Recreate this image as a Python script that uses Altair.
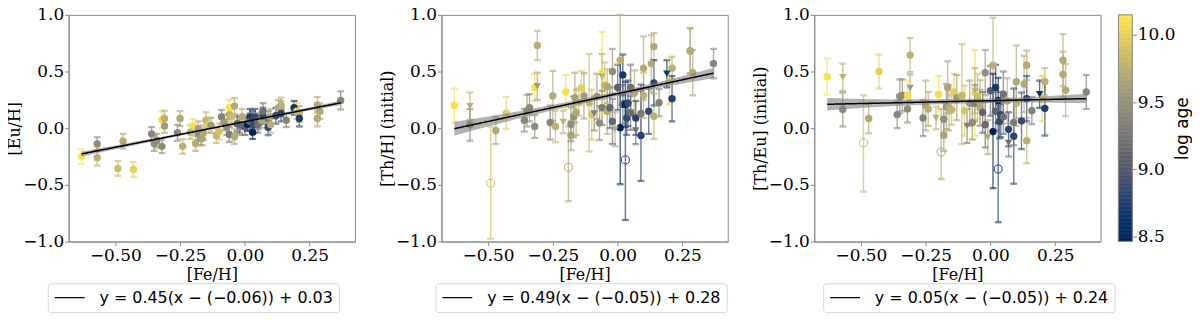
import altair as alt
import pandas as pd

FEH = [-0.63, -0.57, -0.57, -0.49, -0.47, -0.43, -0.36, -0.35, -0.34, -0.32, -0.32, -0.31, -0.31,
       -0.26, -0.25, -0.24, -0.21, -0.20, -0.19, -0.18, -0.18, -0.17, -0.165, -0.16, -0.15, -0.14,
       -0.13, -0.11, -0.10, -0.09, -0.08, -0.07, -0.06, -0.06, -0.06, -0.05, -0.04, -0.04, -0.03,
       -0.02, -0.02, -0.01, 0.00, 0.01, 0.01, 0.02, 0.02, 0.03, 0.03, 0.035, 0.04, 0.05, 0.05,
       0.065, 0.07, 0.07, 0.09, 0.09, 0.10, 0.10, 0.12, 0.13, 0.14, 0.14, 0.14, 0.16, 0.19, 0.20,
       0.21, 0.21, 0.28, 0.28, 0.29, 0.37]
LOGAGE = [10.12, 9.75, 9.45, 9.85, 9.7, 9.98, 9.4, 9.5, 9.45, 9.45, 10.1, 9.75, 9.6,
          9.4, 9.7, 9.75, 9.75, 10.1, 9.7, 9.65, 9.45, 9.5, 9.65, 9.7, 9.8, 9.98,
          9.6, 9.8, 9.9, 9.35, 9.55, 9.45, 9.3, 10.1, 9.75, 9.85, 9.7, 9.7, 9.1,
          9.5, 9.15, 9.7, 9.05, 9.75, 8.5, 8.7, 9.1, 8.75, 8.5, 8.85, 8.85, 9.2, 9.2,
          9.7, 8.8, 9.2, 8.8, 9.3, 9.7, 9.75, 8.85, 9.7, 9.7, 9.75, 8.8, 9.35, 8.65, 10.0,
          9.75, 8.75, 9.7, 9.7, 9.7, 9.4]
EU = [-0.25, -0.26, -0.14, -0.355, -0.115, -0.364, -0.05, -0.135, -0.11, -0.16, 0.075, 0.085, 0.02,
      -0.04, 0.085, -0.16, -0.035, 0.02, -0.135, -0.005, -0.045, -0.09, -0.09, -0.04, 0.07, 0.03,
      0.025, -0.065, -0.03, 0.10, 0.05, 0.01, -0.055, 0.18, 0.12, 0.10, 0.195, -0.075, 0.04,
      0.01, 0.03, 0.10, 0.01, 0.05, 0.035, 0.10, 0.06, 0.08, -0.035, 0.03, 0.10, 0.03, 0.06,
      0.07, 0.11, 0.15, 0.008, 0.08, 0.10, 0.03, 0.11, 0.18, 0.17, 0.20, 0.13, 0.07, 0.18, 0.15,
      0.125, 0.085, 0.205, 0.085, 0.15, 0.245]
EU_ERR = [0.065, 0.07, 0.06, 0.065, 0.065, 0.065, 0.06, 0.065, 0.06, 0.06, 0.075, 0.07, 0.06,
          0.07, 0.065, 0.065, 0.06, 0.06, 0.065, 0.065, 0.06, 0.06, 0.06, 0.065, 0.07, 0.07,
          0.065, 0.065, 0.07, 0.06, 0.07, 0.07, 0.065, 0.07, 0.07, 0.07, 0.07, 0.065, 0.07,
          0.07, 0.07, 0.07, 0.07, 0.07, 0.06, 0.07, 0.07, 0.07, 0.06, 0.07, 0.07, 0.07, 0.07,
          0.07, 0.07, 0.07, 0.07, 0.07, 0.07, 0.07, 0.07, 0.07, 0.07, 0.07, 0.07, 0.06, 0.06, 0.07,
          0.07, 0.07, 0.07, 0.07, 0.07, 0.08]
TH = [0.20, 0.195, 0.03, -0.485, -0.02, 0.135, 0.07, 0.155, 0.18, 0.015, 0.36, 0.73, 0.37,
      0.05, 0.285, 0.015, 0.055, 0.32, -0.345, -0.065, 0.035, 0.10, 0.27, 0.14, 0.23, 0.355,
      0.285, 0.225, 0.12, 0.13, 0.28, 0.045, 0.18, 0.49, 0.455, 0.38, 0.37, 0.15, 0.18,
      0.50, 0.06, -0.01, 0.36, 0.60, 0.005, 0.47, 0.21, -0.28, 0.21, 0.09, 0.22, 0.135, 0.36,
      0.31, 0.09, -0.02, -0.065, 0.13, 0.53, 0.29, 0.15, 0.57, 0.72, 0.105, 0.40, 0.225, 0.48, 0.41,
      0.53, 0.26, 0.68, 0.685, 0.49, 0.57]
TH_ERR_LO = [0.15, 0.12, 0.14, 0.49, 0.12, 0.14, 0.10, 0.14, 0.12, 0.10, 0.12, 0.13, 0.12,
             0.15, 0.22, 0.14, 0.10, 0.15, 0.30, 0.13, 0.15, 0.18, 0.22, 0.20, 0.12, 0.15,
             0.20, 0.43, 0.22, 0.15, 0.20, 0.15, 0.15, 0.36, 0.20, 0.20, 0.15, 0.20, 0.18,
             0.20, 0.20, 0.15, 0.20, 0.40, 0.50, 0.18, 0.17, 0.53, 0.20, 0.15, 0.20, 0.15, 0.20,
             0.20, 0.15, 0.12, 0.40, 0.20, 0.28, 0.20, 0.20, 0.25, 0.12, 0.20, 0.20, 0.12, 0.12, 0.20,
             0.10, 0.20, 0.20, 0.20, 0.20, 0.13]
TH_ERR_HI = [0.15, 0.12, 0.14, 0.50, 0.12, 0.14, 0.10, 0.14, 0.12, 0.10, 0.12, 0.13, 0.12,
             0.15, 0.22, 0.14, 0.10, 0.15, 0.36, 0.13, 0.15, 0.18, 0.22, 0.20, 0.12, 0.15,
             0.20, 0.43, 0.22, 0.15, 0.20, 0.15, 0.15, 0.36, 0.20, 0.20, 0.15, 0.20, 0.18,
             0.20, 0.20, 0.15, 0.20, 0.40, 0.60, 0.18, 0.17, 0.52, 0.20, 0.15, 0.20, 0.15, 0.20,
             0.20, 0.15, 0.12, 0.45, 0.20, 0.28, 0.20, 0.20, 0.25, 0.12, 0.20, 0.20, 0.12, 0.12, 0.20,
             0.10, 0.20, 0.20, 0.20, 0.20, 0.13]
THEU = [0.455, 0.45, 0.165, -0.13, 0.085, 0.50, 0.12, 0.28, 0.29, 0.17, 0.29, 0.645, 0.355,
        0.09, 0.20, 0.17, 0.09, 0.30, -0.21, -0.06, 0.08, 0.19, 0.36, 0.18, 0.16, 0.32,
        0.27, 0.29, 0.155, 0.02, 0.22, 0.05, 0.22, 0.31, 0.33, 0.28, 0.18, 0.225, 0.14,
        0.49, 0.03, -0.08, 0.33, 0.555, -0.03, 0.36, 0.15, -0.36, 0.245, 0.06, 0.12, 0.10, 0.30,
        0.24, -0.01, -0.13, -0.07, 0.05, 0.41, 0.22, 0.065, 0.39, 0.555, -0.11, 0.26, 0.155, 0.30, 0.26,
        0.41, 0.175, 0.475, 0.60, 0.335, 0.32]
THEU_ERR_LO = [0.16, 0.12, 0.15, 0.43, 0.13, 0.15, 0.12, 0.15, 0.14, 0.12, 0.13, 0.15, 0.12,
               0.16, 0.22, 0.15, 0.10, 0.16, 0.24, 0.14, 0.16, 0.20, 0.23, 0.20, 0.13, 0.16,
               0.20, 0.43, 0.22, 0.15, 0.20, 0.15, 0.16, 0.38, 0.20, 0.20, 0.16, 0.20, 0.18,
               0.20, 0.20, 0.15, 0.22, 0.42, 0.50, 0.20, 0.17, 0.47, 0.20, 0.15, 0.20, 0.15, 0.20,
               0.20, 0.15, 0.12, 0.42, 0.20, 0.32, 0.20, 0.25, 0.25, 0.13, 0.20, 0.20, 0.12, 0.12, 0.20,
               0.12, 0.24, 0.20, 0.23, 0.23, 0.15]
THEU_ERR_HI = [0.16, 0.12, 0.15, 0.42, 0.13, 0.15, 0.12, 0.15, 0.14, 0.12, 0.13, 0.15, 0.12,
               0.16, 0.22, 0.15, 0.10, 0.16, 0.38, 0.14, 0.16, 0.20, 0.23, 0.20, 0.13, 0.16,
               0.20, 0.45, 0.22, 0.15, 0.20, 0.15, 0.16, 0.38, 0.20, 0.20, 0.16, 0.20, 0.18,
               0.20, 0.20, 0.15, 0.22, 0.42, 0.51, 0.20, 0.17, 0.60, 0.20, 0.15, 0.20, 0.15, 0.20,
               0.20, 0.15, 0.12, 0.42, 0.20, 0.32, 0.20, 0.25, 0.25, 0.13, 0.20, 0.20, 0.12, 0.12, 0.20,
               0.12, 0.24, 0.20, 0.23, 0.23, 0.15]
MARKER = ["c", "t", "c", "o", "c", "c", "c", "c", "c", "c", "c", "c", "t",
          "c", "c", "c", "t", "c", "o", "c", "c", "c", "c", "c", "c", "c",
          "c", "c", "c", "t", "c", "c", "c", "c", "t", "c", "c", "c", "c",
          "c", "c", "t", "c", "c", "c", "c", "c", "o", "c", "c", "c", "c", "c",
          "c", "c", "t", "c", "c", "c", "c", "c", "c", "c", "c", "c", "c", "t", "c",
          "c", "c", "c", "c", "c", "c"]

# regression lines and confidence bands
FIT_X = [-0.63, -0.35, -0.05, 0.15, 0.37]
EU_FIT = [-0.227, -0.101, 0.035, 0.125, 0.224]
EU_BAND_LO = [-0.249, -0.113, 0.027, 0.114, 0.204]
EU_BAND_HI = [-0.205, -0.089, 0.043, 0.136, 0.244]
TH_FIT = [-0.004, 0.133, 0.28, 0.378, 0.486]
TH_BAND_LO = [-0.064, 0.103, 0.26, 0.353, 0.441]
TH_BAND_HI = [0.056, 0.163, 0.30, 0.403, 0.531]
THEU_FIT = [0.211, 0.225, 0.24, 0.25, 0.261]
THEU_BAND_LO = [0.156, 0.197, 0.22, 0.226, 0.219]
THEU_BAND_HI = [0.266, 0.253, 0.26, 0.274, 0.303]

EQ1 = "y = 0.45(x − (−0.06)) + 0.03"
EQ2 = "y = 0.49(x − (−0.05)) + 0.28"
EQ3 = "y = 0.05(x − (−0.05)) + 0.24"

X_TICKS = [-0.5, -0.25, 0.0, 0.25]
Y_TICKS = [-1.0, -0.5, 0.0, 0.5, 1.0]
AGE_TICKS = [8.5, 9.0, 9.5, 10.0]
AGE_DOMAIN = [8.46, 10.15]
CBAR_STEP = 0.01

stars = pd.DataFrame({
    "feh": FEH, "logage": LOGAGE, "eu": EU, "eu_err": EU_ERR,
    "th": TH, "th_lo": TH_ERR_LO, "th_hi": TH_ERR_HI,
    "theu": THEU, "theu_lo": THEU_ERR_LO, "theu_hi": THEU_ERR_HI,
    "marker": MARKER,
})

W, H = 288, 228
SERIF = "DejaVu Serif, serif"
CBAR_X0, CBAR_X1 = W + 18, W + 32

xenc = alt.X("feh:Q", scale=alt.Scale(domain=[-0.68, 0.425], nice=False, zero=False),
             axis=alt.Axis(values=X_TICKS, format=".2f", title="[Fe/H]", labelPadding=2,
                           titlePadding=3))
age_scale = alt.Scale(scheme="cividis", domain=AGE_DOMAIN, nice=False, zero=False)
fill = alt.Fill("logage:Q", scale=age_scale, legend=None)
stroke = alt.Stroke("logage:Q", scale=age_scale, legend=None)


def panel(col, lo_expr, hi_expr, ytitle, fit, blo, bhi, eq, filled_only, leg_x):
    yscale = alt.Scale(domain=[-1, 1], nice=False)
    yaxis = alt.Axis(values=Y_TICKS, format=".1f", title=ytitle, titlePadding=0, labelPadding=1,
                     orient="left")
    base = alt.Chart(stars).transform_calculate(lo=lo_expr, hi=hi_expr)
    bars = base.mark_rule(opacity=0.7, strokeWidth=1.4).encode(
        x=xenc, y=alt.Y("lo:Q", scale=yscale, axis=yaxis), y2="hi:Q", stroke=stroke)
    cap_lo = base.mark_tick(orient="horizontal", size=6, thickness=1.2, opacity=0.7, filled=False).encode(
        x=xenc, y=alt.Y("lo:Q", scale=yscale), stroke=stroke)
    cap_hi = base.mark_tick(orient="horizontal", size=6, thickness=1.2, opacity=0.7, filled=False).encode(
        x=xenc, y=alt.Y("hi:Q", scale=yscale), stroke=stroke)
    y = alt.Y(f"{col}:Q", scale=yscale)
    layers = [bars, cap_lo, cap_hi]
    if filled_only:
        layers.append(base.mark_circle(size=55, opacity=1).encode(x=xenc, y=y, fill=fill))
    else:
        layers.append(base.transform_filter(alt.datum.marker == "c").mark_circle(size=55, opacity=1)
                      .encode(x=xenc, y=y, fill=fill))
        layers.append(base.transform_filter(alt.datum.marker == "t")
                      .mark_point(shape="triangle-down", filled=True, size=55, opacity=1)
                      .encode(x=xenc, y=y, fill=fill))
        layers.append(base.transform_filter(alt.datum.marker == "o")
                      .mark_point(shape="circle", filled=False, size=65, opacity=1, strokeWidth=1)
                      .encode(x=xenc, y=y, stroke=stroke))
    fitdf = pd.DataFrame({"feh": FIT_X, "fit": fit, "blo": blo, "bhi": bhi, "eq": [eq] * len(FIT_X)})
    band = alt.Chart(fitdf).mark_area(color="#7f7f7f", opacity=0.6, interpolate="monotone").encode(
        x=xenc, y=alt.Y("blo:Q", scale=yscale), y2="bhi:Q")
    line = alt.Chart(fitdf).mark_line(color="black", strokeWidth=1.5).encode(
        x=xenc, y=alt.Y("fit:Q", scale=yscale),
        strokeDash=alt.StrokeDash("eq:N", scale=alt.Scale(domain=[eq], range=[[1, 0]]),
                                  legend=alt.Legend(orient="none", legendX=leg_x, legendY=270,
                                                    title=None, symbolType="stroke",
                                                    symbolStrokeColor="black", symbolStrokeWidth=1.3,
                                                    symbolSize=900, clipHeight=17,
                                                    labelFont="DejaVu Sans", labelFontSize=16,
                                                    labelColor="black", labelLimit=500, labelOffset=14,
                                                    strokeColor="#d6d6d6", fillColor="white",
                                                    padding=6, cornerRadius=3)))
    layers += [band, line]
    return alt.layer(*layers)


p1 = panel("eu", "datum.eu - datum.eu_err", "datum.eu + datum.eu_err", "[Eu/H]",
           EU_FIT, EU_BAND_LO, EU_BAND_HI, EQ1, True, -21).properties(width=W, height=H)
p2 = panel("th", "datum.th - datum.th_lo", "datum.th + datum.th_hi", "[Th/H] (initial)",
           TH_FIT, TH_BAND_LO, TH_BAND_HI, EQ2, False, -6).properties(width=W, height=H)
p3_main = panel("theu", "datum.theu - datum.theu_lo", "datum.theu + datum.theu_hi", "[Th/Eu] (initial)",
                THEU_FIT, THEU_BAND_LO, THEU_BAND_HI, EQ3, False, 9)

# colour bar (log age) drawn beside the third panel, with its own right-hand axis
cbar_scale = alt.Scale(domain=AGE_DOMAIN, nice=False, zero=False)
cbar_axis = alt.Axis(orient="right", offset=CBAR_X1 - W, values=AGE_TICKS, format=".1f",
                     title="log age", titleFont="DejaVu Sans", titleFontSize=17, titleAngle=270,
                     titlePadding=0, titleBaseline="top", domain=False, labelPadding=1)
cbar = alt.Chart(alt.sequence(AGE_DOMAIN[0], AGE_DOMAIN[1], CBAR_STEP, as_="v")).transform_calculate(
    v2=f"min(datum.v + {CBAR_STEP}, {AGE_DOMAIN[1]})"
).mark_rect(strokeWidth=0.6).encode(
    x=alt.value(CBAR_X0), x2=alt.value(CBAR_X1),
    y=alt.Y("v:Q", scale=cbar_scale, axis=cbar_axis), y2="v2:Q",
    fill=alt.Fill("v:Q", scale=age_scale, legend=None),
    stroke=alt.Stroke("v:Q", scale=age_scale, legend=None),
)
cframe = alt.Chart(pd.DataFrame({"lo": [AGE_DOMAIN[0]], "hi": [AGE_DOMAIN[1]]})).mark_rect(
    fill=None, stroke="#888", strokeWidth=1
).encode(x=alt.value(CBAR_X0), x2=alt.value(CBAR_X1),
         y=alt.Y("lo:Q", scale=cbar_scale), y2="hi:Q")
cbar_layer = alt.layer(cbar, cframe)

p3 = alt.layer(p3_main, cbar_layer).resolve_scale(y="independent").properties(width=W, height=H)

chart = alt.hconcat(p1, p2, p3, spacing=87).properties(
    bounds="flush", padding={"left": -2, "top": -4, "right": 0, "bottom": 0}
).resolve_scale(strokeDash="independent").resolve_legend(strokeDash="independent").configure_view(
    stroke="#888", strokeWidth=1
).configure_axis(
    labelFont=SERIF, labelFontSize=17, labelColor="black",
    titleFont=SERIF, titleFontSize=16, titleFontWeight="normal", titleColor="black",
    domainColor="#888", tickColor="#888", tickSize=4, grid=False
)

chart.save("out.html", embed_options={"renderer": "svg", "actions": False})
